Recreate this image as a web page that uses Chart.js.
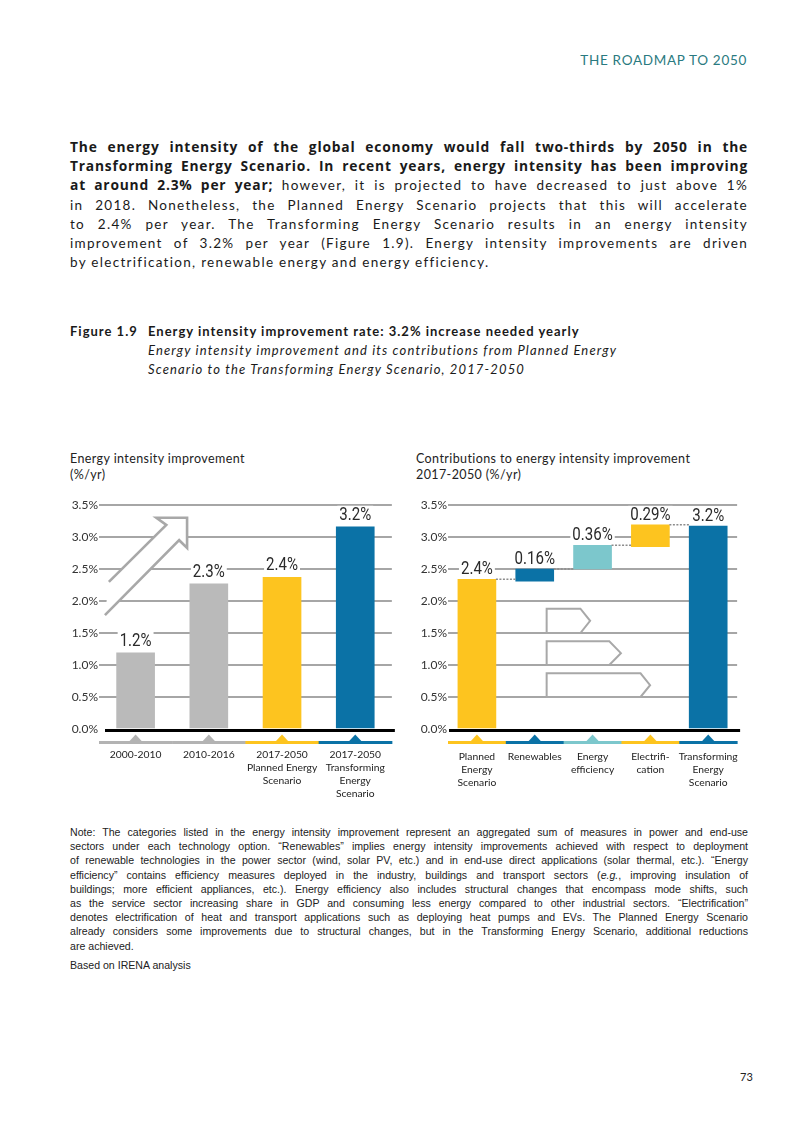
<!DOCTYPE html>
<html>
<head>
<meta charset="utf-8">
<script src="https://cdn.jsdelivr.net/npm/chart.js@4.4.0/dist/chart.umd.min.js"></script>
<style>
  html, body { margin: 0; padding: 0; background: #fff; }
  body { width: 803px; height: 1134px; position: relative; font-family: Lato, "Open Sans", sans-serif; color: #1a1a1a; overflow: hidden; }
  .abs { position: absolute; }
  .header { right: 56px; top: 51px; font-size: 13.5px; letter-spacing: 0.7px; color: #2a7a80; line-height: 18px; font-weight: 400; }
  .body { left: 70px; top: 138px; width: 678px; font-size: 13.5px; line-height: 19.2px; letter-spacing: 1.3px; }
  .body div { white-space: nowrap; text-align: justify; text-align-last: justify; height: 19.2px; }
  .body div.last { text-align-last: left; }
  .body b { font-family: "Open Sans", Lato, sans-serif; font-size: 13.8px; letter-spacing: 0.8px; font-weight: 700; line-height: 1; }
  .cap { left: 70px; top: 322px; font-size: 13px; line-height: 19px; }
  .cap .num { position: absolute; left: 0; top: 0; font-weight: 700; white-space: nowrap; letter-spacing: 1px; }
  .cap .txt { position: absolute; left: 78px; top: 0; white-space: nowrap; }
  .cap .txt b { font-weight: 700; letter-spacing: 1px; }
  .cap .txt i { letter-spacing: 1.15px; }
  .ctitle { top: 451px; font-size: 12.5px; line-height: 16px; color: #222; letter-spacing: 0.4px; }
  .note { left: 70px; top: 825px; width: 678px; font-family: "Liberation Sans Narrow", "Liberation Sans", sans-serif; font-size: 10.6px; line-height: 14.2px; color: #222; }
  .note div { white-space: nowrap; text-align: justify; text-align-last: justify; }
  .note div.last { text-align-last: left; }
  canvas { position: absolute; }
</style>
</head>
<body>
<div class="abs header">THE ROADMAP TO 2050</div>

<div class="abs body">
  <div><b>The energy intensity of the global economy would fall two-thirds by 2050 in the</b></div>
  <div><b>Transforming Energy Scenario. In recent years, energy intensity has been improving</b></div>
  <div><b>at around 2.3% per year;</b> however, it is projected to have decreased to just above 1%</div>
  <div>in 2018. Nonetheless, the Planned Energy Scenario projects that this will accelerate</div>
  <div>to 2.4% per year. The Transforming Energy Scenario results in an energy intensity</div>
  <div>improvement of 3.2% per year (Figure 1.9). Energy intensity improvements are driven</div>
  <div class="last">by electrification, renewable energy and energy efficiency.</div>
</div>

<div class="abs cap">
  <div class="num">Figure 1.9</div>
  <div class="txt"><b>Energy intensity improvement rate: 3.2% increase needed yearly</b><br>
  <i>Energy intensity improvement and its contributions from Planned Energy</i><br>
  <i>Scenario to the Transforming Energy Scenario, 2017-2050</i></div>
</div>

<div class="abs ctitle" style="left:70px">Energy intensity improvement<br>(%/yr)</div>
<div class="abs ctitle" style="left:416px">Contributions to energy intensity improvement<br>2017-2050 (%/yr)</div>

<canvas id="leftChart" width="345" height="320" style="left:60px; top:490px; width:345px; height:320px"></canvas>
<canvas id="rightChart" width="355" height="320" style="left:405px; top:490px; width:355px; height:320px"></canvas>

<div class="abs note">
  <div>Note: The categories listed in the energy intensity improvement represent an aggregated sum of measures in power and end-use</div>
  <div>sectors under each technology option. “Renewables” implies energy intensity improvements achieved with respect to deployment</div>
  <div>of renewable technologies in the power sector (wind, solar PV, etc.) and in end-use direct applications (solar thermal, etc.). “Energy</div>
  <div>efficiency” contains efficiency measures deployed in the industry, buildings and transport sectors (<i>e.g.</i>, improving insulation of</div>
  <div>buildings; more efficient appliances, etc.). Energy efficiency also includes structural changes that encompass mode shifts, such</div>
  <div>as the service sector increasing share in GDP and consuming less energy compared to other industrial sectors. “Electrification”</div>
  <div>denotes electrification of heat and transport applications such as deploying heat pumps and EVs. The Planned Energy Scenario</div>
  <div>already considers some improvements due to structural changes, but in the Transforming Energy Scenario, additional reductions</div>
  <div class="last">are achieved.</div>
</div>
<div class="abs note" style="top:958px">Based on IRENA analysis</div>
<div class="abs" style="left:740px; top:1070px; font-size:11px; color:#222">73</div>

<script>
// ---- data ----
const leftCategories = [['2000-2010'], ['2010-2016'], ['2017-2050', 'Planned Energy', 'Scenario'], ['2017-2050', 'Transforming', 'Energy', 'Scenario']];
const leftValues = [1.19, 2.27, 2.37, 3.16];
const leftLabels = ['1.2%', '2.3%', '2.4%', '3.2%'];

const rightCategories = [['Planned', 'Energy', 'Scenario'], ['Renewables'], ['Energy', 'efficiency'], ['Electrifi-', 'cation'], ['Transforming', 'Energy', 'Scenario']];
const rightStart = [0, 2.31, 2.50, 2.85, 0];
const rightEnd = [2.34, 2.50, 2.87, 3.19, 3.17];
const rightLabels = ['2.4%', '0.16%', '0.36%', '0.29%', '3.2%'];

const yMin = 0, yMax = 3.5, yStep = 0.5;

// colours
const GREY = '#bababa', YELLOW = '#fdc41f', BLUE = '#0b72a6', TEAL = '#7cc7cc';
const leftColors = [GREY, GREY, YELLOW, BLUE];
const leftStrip = ['#b3b3b3', '#b3b3b3', YELLOW, BLUE];
const rightColors = [YELLOW, BLUE, TEAL, YELLOW, BLUE];

// decorations, in (category index, value) units
const leftArrow = [[-0.365, 2.30], [0.419, 3.19], [0.284, 3.30], [0.703, 3.30], [0.703, 2.83], [0.595, 2.95], [-0.419, 1.78]];
const rightChevrons = [
    [[1.206, 1.5], [1.206, 1.88], [1.79, 1.88], [1.958, 1.69], [1.79, 1.5]],
    [[1.206, 1.0], [1.206, 1.37], [2.29, 1.37], [2.49, 1.185], [2.29, 1.0]],
    [[1.206, 0.5], [1.206, 0.87], [2.83, 0.87], [2.995, 0.685], [2.83, 0.5]]
];

Chart.defaults.font.family = 'Lato, "Open Sans", sans-serif';
Chart.defaults.color = '#222';

const labelFont = '400 17.5px Roboto, "Liberation Sans", sans-serif';
const labelSquash = 0.86; // the print uses a condensed face

const decor = {
    id: 'decor',
    beforeDatasetsDraw(chart, args, opts) {
        const ctx = chart.ctx, x = chart.scales.x, y = chart.scales.y;
        const px = p => [x.getPixelForValue(p[0]), y.getPixelForValue(p[1])];
        ctx.save();
        ctx.strokeStyle = '#a8a8a8';
        ctx.fillStyle = '#fff';
        ctx.lineJoin = 'miter';
        (opts.shapes || []).forEach(shape => {
            ctx.lineWidth = shape.width;
            ctx.beginPath();
            shape.points.forEach((p, i) => {
                const [a, b] = px(p);
                if (i === 0) ctx.moveTo(a, b); else ctx.lineTo(a, b);
            });
            if (shape.closed) ctx.closePath();
            ctx.fill();
            ctx.stroke();
        });
        ctx.restore();
    },
    afterDatasetsDraw(chart, args, opts) {
        const ctx = chart.ctx, x = chart.scales.x, y = chart.scales.y;
        const area = chart.chartArea;
        const bars = chart.getDatasetMeta(0).data;
        ctx.save();

        // dotted connectors between waterfall steps
        if (opts.connectors) {
            ctx.strokeStyle = '#8c8c8c';
            ctx.lineWidth = 1.5;
            ctx.setLineDash([2, 1.5]);
            for (let i = 0; i < bars.length - 1; i++) {
                const yy = y.getPixelForValue(opts.connectors[i]);
                ctx.beginPath();
                ctx.moveTo(bars[i].x + bars[i].width / 2, yy);
                ctx.lineTo(bars[i + 1].x - bars[i + 1].width / 2, yy);
                ctx.stroke();
            }
            ctx.setLineDash([]);
        }

        // zero line
        const y0 = y.getPixelForValue(0);
        ctx.fillStyle = '#000';
        ctx.fillRect(area.left + opts.zeroInset, y0, area.right - area.left - opts.zeroInset + 3, 3);

        // value labels with white backing
        ctx.font = labelFont;
        ctx.textAlign = 'center';
        ctx.textBaseline = 'alphabetic';
        bars.forEach((bar, i) => {
            const top = Math.min(bar.y, bar.base);
            const base = top - opts.gap;
            const w = ctx.measureText(opts.labels[i]).width * labelSquash;
            ctx.fillStyle = '#fff';
            ctx.fillRect(bar.x - w / 2 - 2, base - 14, w + 4, 16);
            ctx.save();
            ctx.translate(bar.x, base);
            ctx.scale(labelSquash, 1);
            ctx.fillStyle = '#2a2a2a';
            ctx.fillText(opts.labels[i], 0, 0);
            ctx.restore();
        });

        // coloured strip with little triangles under the axis
        const n = x.ticks.length;
        const cw = (area.right - area.left) / n;
        const sy = area.bottom + 12;
        opts.strip.forEach((c, i) => {
            const cx = x.getPixelForValue(i);
            ctx.fillStyle = c;
            ctx.fillRect(cx - cw / 2, sy, cw + 0.5, 3);
            ctx.beginPath();
            ctx.moveTo(cx - 6.5, sy + 0.5);
            ctx.lineTo(cx, sy - 6.5);
            ctx.lineTo(cx + 6.5, sy + 0.5);
            ctx.closePath();
            ctx.fill();
        });
        ctx.restore();
    }
};

function makeOptions(yWidth, padRight, labelPad, extra) {
    return {
        responsive: false,
        maintainAspectRatio: false,
        animation: false,
        layout: { padding: { top: 15, right: padRight, left: 0, bottom: 0 } },
        plugins: {
            legend: { display: false },
            tooltip: { enabled: false },
            decor: extra
        },
        scales: {
            x: {
                grid: { display: false, drawTicks: false },
                border: { display: false },
                ticks: { font: { size: 10.3, lineHeight: 1.27 }, padding: labelPad, maxRotation: 0, autoSkip: false, color: '#222' },
                afterFit: s => { s.height = 81; }
            },
            y: {
                min: yMin,
                max: yMax,
                grid: {
                    drawTicks: false,
                    color: c => c.tick && c.tick.value === 0 ? 'rgba(0,0,0,0)' : '#a6a6a6',
                    lineWidth: 2
                },
                border: { display: false },
                ticks: {
                    stepSize: yStep,
                    padding: 1,
                    font: { size: 12 },
                    color: '#333',
                    callback: v => v.toFixed(1) + '%'
                },
                afterFit: s => { s.width = yWidth; }
            }
        }
    };
}

new Chart(document.getElementById('leftChart').getContext('2d'), {
    type: 'bar',
    data: {
        labels: leftCategories,
        datasets: [{
            data: leftValues,
            backgroundColor: leftColors,
            borderWidth: 0,
            barThickness: 38
        }]
    },
    options: makeOptions(39, 10, 19, {
        labels: leftLabels,
        gap: 7,
        zeroInset: 6,
        strip: leftStrip,
        shapes: [{ points: leftArrow, width: 2.6, closed: false }]
    }),
    plugins: [decor]
});

new Chart(document.getElementById('rightChart').getContext('2d'), {
    type: 'bar',
    data: {
        labels: rightCategories,
        datasets: [{
            data: rightStart.map((s, i) => [s, rightEnd[i]]),
            backgroundColor: rightColors,
            borderWidth: 0,
            borderSkipped: false,
            barThickness: 38
        }]
    },
    options: makeOptions(43, 13, 21, {
        labels: rightLabels,
        gap: 5,
        zeroInset: 1,
        strip: rightColors,
        connectors: rightEnd,
        shapes: rightChevrons.map(p => ({ points: p, width: 2, closed: true }))
    }),
    plugins: [decor]
});
</script>
</body>
</html>
